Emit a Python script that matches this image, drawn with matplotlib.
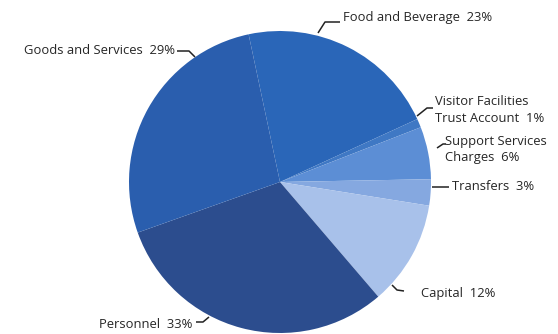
import matplotlib.pyplot as plt

# Budget shares (clockwise from the top)
labels = ['Food and Beverage', 'Visitor Facilities\nTrust Account', 'Support Services\nCharges',
          'Transfers', 'Capital', 'Personnel', 'Goods and Services']
shares = [23, 1, 6, 3, 12, 33, 29]
colors = ['#2a66b8', '#3f78c4', '#5c8ed5', '#85a8e0', '#a8c1ea', '#2c4d8e', '#2a5eae']

W, H = 558, 334
plt.rcParams['font.family'] = ['Open Sans', 'DejaVu Sans']

fig = plt.figure(figsize=(W / 100, H / 100), dpi=100)
ax = fig.add_axes([0, 0, 1, 1])

# pie in pixel units, y measured from the bottom
cx, cy, r = 280, H - 182, 151
ax.pie(shares, colors=colors, startangle=102, counterclock=False,
       radius=r, center=(cx, cy), wedgeprops=dict(linewidth=0))
ax.set_xlim(0, W)
ax.set_ylim(0, H)
ax.set_aspect('equal')
ax.axis('off')


def leader(pts):
    xs = [p[0] for p in pts]
    ys = [H - p[1] for p in pts]
    ax.plot(xs, ys, color='#222222', lw=1.1, solid_capstyle='butt')


def label(x, y, s, ha='left', ls=1.15):
    ax.text(x, H - y, s, ha=ha, va='center', fontsize=9.4, color='#262626',
            linespacing=ls)


txt = [f'{l}  {v}%' for l, v in zip(labels, shares)]

# Food and Beverage
leader([(318, 33), (325, 22), (340, 22)])
label(343, 17, txt[0])
# Visitor Facilities Trust Account
leader([(417, 116), (427, 108), (433, 108)])
label(435, 110, txt[1], ls=1.4)
# Support Services Charges
leader([(437, 148), (443, 144), (446, 144)])
label(445, 150, txt[2], ls=1.3)
# Transfers
leader([(432, 187), (449, 187)])
label(452, 186, txt[3])
# Capital
leader([(392, 285), (397, 290), (404, 291)])
label(421, 294, txt[4])
# Personnel
leader([(196, 322), (203, 322), (209, 317)])
label(192, 325, txt[5], ha='right')
# Goods and Services
leader([(177, 51), (189, 51), (195, 57)])
label(175, 50, txt[6], ha='right')

fig.savefig('out.png', dpi=100)
